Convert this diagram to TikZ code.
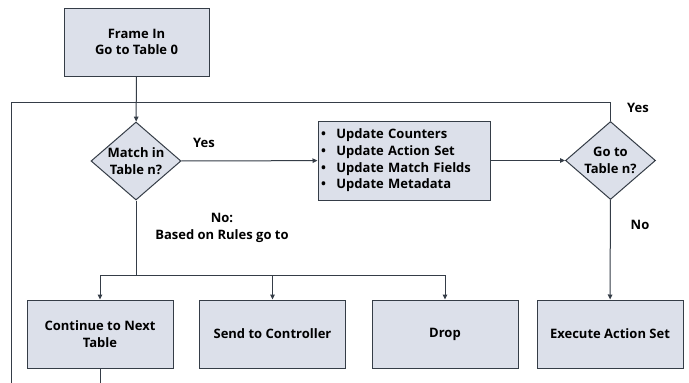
\documentclass[tikz,border=0pt]{standalone}
\usepackage{fontspec}
\setmainfont{Open Sans}
\usetikzlibrary{shapes.geometric,arrows.meta}
\definecolor{boxfill}{HTML}{DCE0EA}
\definecolor{edge}{HTML}{353D47}
\tikzset{
  txt/.style={font=\fontsize{13}{16.7}\selectfont\bfseries, text=black},
  base/.style={draw=edge, line width=1pt, fill=boxfill, align=center, txt},
  box/.style={base, rectangle, minimum width=146pt, minimum height=68pt, inner sep=2pt},
  dec/.style={base, diamond, aspect=1.154, minimum width=90pt, minimum height=78pt, inner sep=0pt},
  conn/.style={draw=edge, line width=1pt},
  arr/.style={conn, -{Triangle[length=5pt,width=4.5pt]}},
  lbl/.style={align=center, txt, inner sep=0pt}
}
\begin{document}
\begin{tikzpicture}[x=1pt,y=-1pt]
\useasboundingbox[fill=white] (0,0) rectangle (689,383);
\node[box, minimum width=145pt] (frame) at (136.5,42) {Frame In\\Go to Table 0};
\node[dec, label={[lbl]center:Match in\\Table n?}] (match) at (136,161) {};
\node[base, rectangle, minimum height=79pt, text width=166pt, align=left, inner sep=3pt] (upd) at (404,160.5)
  {\begin{tabular}{@{}l@{\hspace{10.5pt}}l@{}}
  \textbullet & Update Counters\\
  \textbullet & Update Action Set\\
  \textbullet & Update Match Fields\\
  \textbullet & Update Metadata
  \end{tabular}};
\node[dec, label={[lbl]center:Go to\\Table n?}] (goto) at (610.5,160.5) {};
\node[box] (cont) at (100,334) {Continue to Next\\Table};
\node[box] (send) at (272.5,334) {Send to Controller};
\node[box] (drop) at (445,334) {Drop};
\node[box] (exec) at (610,334) {Execute Action Set};
\coordinate (loopend) at (11,383);
\coordinate (contend) at (100,383);
\coordinate (br) at (136,275);
% labels
\node[lbl] (yes1) at (204,143) {Yes};
\node[lbl] (yes2) at (638,108) {Yes};
\node[lbl] (no2) at (640,225) {No};
\node[lbl] (no1) at (222,228) {No:\\Based on Rules go to};
% connectors
\draw[arr] (frame) -- (match);
\draw[arr] (match) -- (upd);
\draw[arr] (upd) -- (goto);
\draw[arr] (goto) -- (exec);
\draw[conn] (goto.north) -- ++(0,-18.5) -| (loopend);
\draw[conn] (match.south) -- (br);
\draw[arr] (br) -| (cont);
\draw[arr] (br) -| (send);
\draw[arr] (br) -| (drop);
\draw[conn] (cont) -- (contend);
\end{tikzpicture}
\end{document}
